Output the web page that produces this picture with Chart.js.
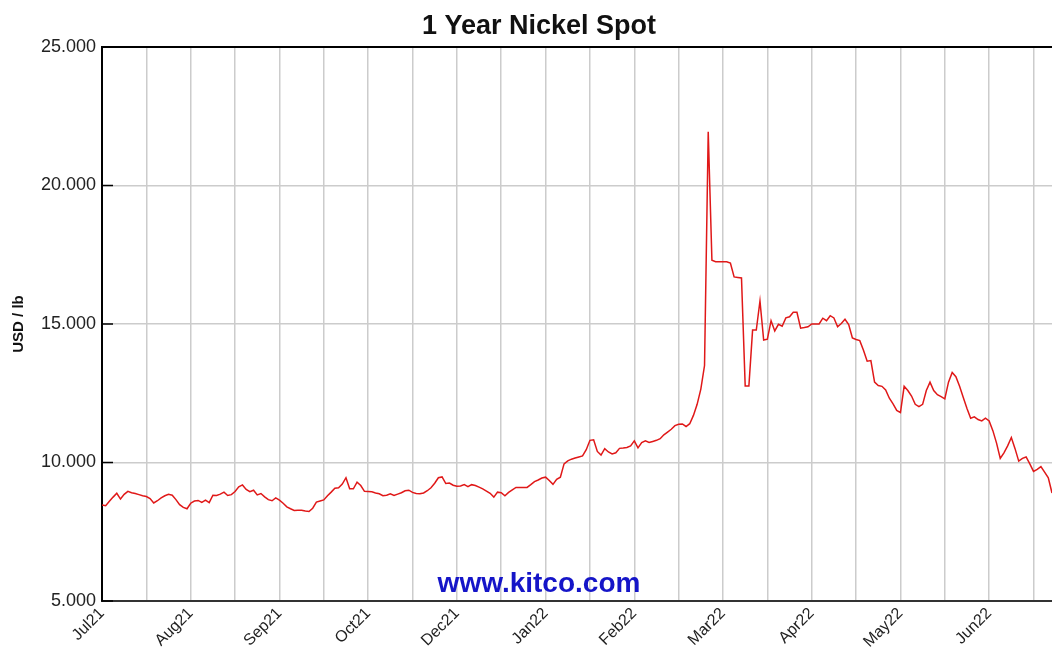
<!DOCTYPE html>
<html>
<head>
<meta charset="utf-8">
<script src="https://cdn.jsdelivr.net/npm/chart.js@4"></script>
<style>
html,body{margin:0;padding:0;background:#fff;overflow:hidden}
#wrap{width:1052px;height:649px;position:relative}
</style>
</head>
<body>
<div id="wrap"><canvas id="c" width="1052" height="649"></canvas></div>
<script>
// ---------- data ----------
const chartTitle = '1 Year Nickel Spot';
const yAxisTitle = 'USD / lb';
const watermark = 'www.kitco.com';

// trading-day index of each vertical grid line, and its label
const xTickPositions = [0,12,24,36,48,60,72,84,96,108,120,132,144,156,168,180,192,204,216,228,240,252];
const xTickLabels = ['Jul21','','Aug21','','Sep21','','Oct21','','Dec21','','Jan22','','Feb22','','Mar22','','Apr22','','May22','','Jun22',''];
const yTickValues = [5,10,15,20,25];
const xMaxIndex = 257;

// nickel spot, USD / lb, one value per trading day
const prices = [
  8.47, 8.44, 8.60, 8.75, 8.89, 8.68, 8.85, 8.96, 8.91, 8.88, 8.84, 8.80,
  8.77, 8.70, 8.54, 8.62, 8.72, 8.80, 8.85, 8.82, 8.66, 8.48, 8.38, 8.33,
  8.53, 8.61, 8.63, 8.56, 8.64, 8.55, 8.82, 8.81, 8.86, 8.93, 8.81, 8.84,
  8.95, 9.12, 9.19, 9.03, 8.95, 9.00, 8.83, 8.88, 8.76, 8.66, 8.62, 8.72,
  8.64, 8.53, 8.40, 8.33, 8.27, 8.28, 8.28, 8.25, 8.23, 8.35, 8.57, 8.61,
  8.65, 8.80, 8.93, 9.07, 9.09, 9.22, 9.45, 9.05, 9.05, 9.29, 9.17, 8.96,
  8.95, 8.94, 8.90, 8.87, 8.80, 8.82, 8.87, 8.81, 8.86, 8.91, 8.98, 9.00,
  8.92, 8.88, 8.87, 8.90, 8.98, 9.09, 9.25, 9.45, 9.48, 9.24, 9.26, 9.18,
  9.14, 9.15, 9.20, 9.13, 9.20, 9.17, 9.11, 9.05, 8.97, 8.89, 8.75, 8.93,
  8.91, 8.80, 8.92, 9.01, 9.10, 9.10, 9.10, 9.10, 9.20, 9.31, 9.37, 9.44,
  9.47, 9.35, 9.21, 9.39, 9.47, 9.95, 10.06, 10.12, 10.16, 10.20, 10.24, 10.46,
  10.80, 10.82, 10.40, 10.27, 10.50, 10.38, 10.31, 10.35, 10.51, 10.52, 10.54, 10.60,
  10.78, 10.53, 10.72, 10.78, 10.72, 10.76, 10.80, 10.86, 11.00, 11.10, 11.20, 11.33,
  11.38, 11.39, 11.30, 11.40, 11.70, 12.10, 12.65, 13.50, 21.94, 17.30, 17.25, 17.25,
  17.25, 17.25, 17.20, 16.70, 16.68, 16.66, 12.76, 12.76, 14.78, 14.78, 15.83, 14.42,
  14.45, 15.12, 14.75, 14.99, 14.92, 15.22, 15.26, 15.42, 15.42, 14.85, 14.87, 14.90,
  15.00, 15.00, 15.00, 15.21, 15.12, 15.30, 15.22, 14.90, 15.02, 15.17, 14.98, 14.50,
  14.44, 14.40, 14.05, 13.66, 13.68, 12.90, 12.78, 12.75, 12.62, 12.32, 12.12, 11.88,
  11.80, 12.75, 12.60, 12.40, 12.10, 12.02, 12.10, 12.60, 12.90, 12.60, 12.45, 12.38,
  12.30, 12.90, 13.25, 13.10, 12.75, 12.35, 11.95, 11.60, 11.65, 11.55, 11.50, 11.60,
  11.50, 11.15, 10.70, 10.15, 10.35, 10.60, 10.90, 10.50, 10.05, 10.15, 10.20, 9.95,
  9.68, 9.75, 9.85, 9.65, 9.45, 8.90
];

// ---------- chart ----------
const FONT = '"Liberation Sans", Arial, Helvetica, sans-serif';

const decor = {
  id: 'decor',
  beforeDatasetsDraw(chart) {
    const {ctx, chartArea: a} = chart;
    ctx.save();
    ctx.font = 'bold 28px ' + FONT;
    ctx.fillStyle = '#1515c8';
    ctx.textAlign = 'center';
    ctx.textBaseline = 'alphabetic';
    ctx.fillText(watermark, chart.width / 2 + 13, a.bottom - 9);
    ctx.restore();
  },
  afterDraw(chart) {
    const {ctx, chartArea: a, scales} = chart;
    ctx.save();
    // top frame line
    ctx.strokeStyle = '#000';
    ctx.lineWidth = 2;
    ctx.beginPath();
    ctx.moveTo(a.left, a.top);
    ctx.lineTo(a.right, a.top);
    ctx.stroke();
    // inward y tick marks
    ctx.lineWidth = 1.5;
    scales.y.ticks.forEach(t => {
      const py = scales.y.getPixelForValue(t.value);
      ctx.beginPath();
      ctx.moveTo(a.left, py);
      ctx.lineTo(a.left + 11, py);
      ctx.stroke();
    });
    // title
    ctx.font = 'bold 27px ' + FONT;
    ctx.fillStyle = '#111';
    ctx.textAlign = 'center';
    ctx.textBaseline = 'middle';
    ctx.fillText(chartTitle, chart.width / 2 + 13, 27);
    ctx.restore();
  }
};

new Chart(document.getElementById('c'), {
  type: 'line',
  data: {
    datasets: [{
      data: prices.map((v, i) => ({x: i, y: v})),
      borderColor: '#e01818',
      borderWidth: 1.5,
      pointRadius: 0,
      tension: 0,
      fill: false
    }]
  },
  options: {
    responsive: false,
    animation: false,
    devicePixelRatio: 1,
    layout: {padding: {top: 47, right: 0, left: 0, bottom: 0}},
    plugins: {legend: {display: false}, title: {display: false}, tooltip: {enabled: false}},
    scales: {
      x: {
        type: 'linear',
        min: 0,
        max: xMaxIndex,
        afterBuildTicks: s => { s.ticks = xTickPositions.map(v => ({value: v})); },
        afterFit: s => { s.height = 48; },
        ticks: {
          autoSkip: false,
          minRotation: 45,
          maxRotation: 45,
          padding: 3,
          color: '#222',
          font: {family: FONT, size: 16},
          callback: (v, i) => xTickLabels[i]
        },
        grid: {color: '#cccccc', lineWidth: 1.5, drawTicks: false},
        border: {color: '#333', width: 2}
      },
      y: {
        min: 5,
        max: 25,
        afterBuildTicks: s => { s.ticks = yTickValues.map(v => ({value: v})); },
        afterFit: s => { s.width = 102; },
        ticks: {
          padding: 6,
          color: '#222',
          font: {family: FONT, size: 18},
          callback: v => v.toFixed(3)
        },
        grid: {color: '#cccccc', lineWidth: 1.5, drawTicks: false},
        border: {color: '#000', width: 2},
        title: {
          display: true,
          text: yAxisTitle,
          color: '#111',
          font: {family: FONT, size: 15, weight: 'bold'},
          padding: {top: 10, bottom: 0}
        }
      }
    }
  },
  plugins: [decor]
});
</script>
</body>
</html>
